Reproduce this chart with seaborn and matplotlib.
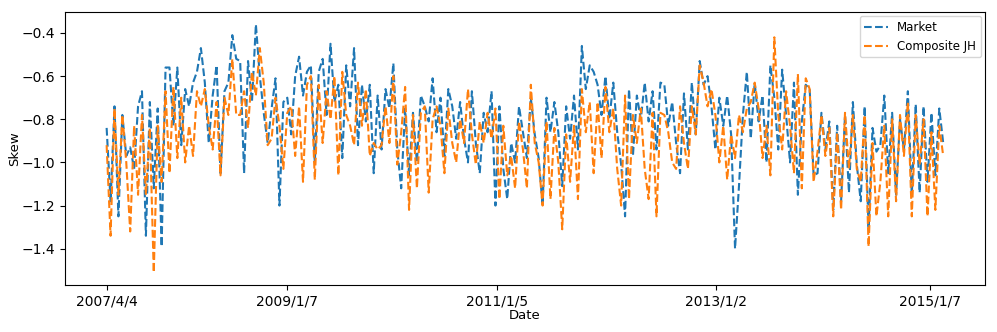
import numpy as np
import pandas as pd
import matplotlib
matplotlib.use("Agg")
import matplotlib.pyplot as plt
import seaborn as sns

# skew values (roughly every other week)
market = [
    -0.84, -1.18, -0.74, -1.25, -0.78, -0.97, -0.93, -1.03, -0.74, -0.67, -1.34, -0.72, -1.12, -0.75, -1.39, -0.56,
    -0.56, -0.83, -0.56, -0.92, -0.66, -0.74, -0.63, -0.58, -0.47, -0.63, -0.91, -0.69, -0.55, -1.05, -0.67, -0.63, -0.41, -0.52,
    -0.53, -1.05, -0.53, -0.72, -0.36, -0.60, -0.77, -0.91, -0.75, -0.61, -1.20, -0.72, -0.70, -0.87, -0.60, -0.51, -0.69, -0.58,
    -0.55, -1.00, -0.58, -0.52, -0.78, -0.45, -0.72, -0.64, -0.98, -0.55, -0.74, -0.47, -0.92, -0.64, -0.81, -0.64, -1.05, -0.69,
    -0.94, -0.66, -0.75, -0.54, -0.94, -1.12, -0.75, -1.06, -0.77, -1.00, -0.69, -0.74, -0.81, -0.61, -0.86, -0.70, -0.97, -0.66,
    -0.74, -0.89, -0.72, -0.89, -1.00, -0.67, -0.91, -1.05, -0.77, -0.86, -0.67, -1.20, -0.74, -1.03, -1.17, -0.91, -1.00, -0.74,
    -0.86, -0.98, -0.70, -0.87, -0.98, -1.20, -0.70, -0.86, -0.72, -0.86, -1.11, -0.74, -0.89, -0.69, -0.94, -0.46, -0.66, -0.55,
    -0.58, -0.64, -0.78, -0.60, -0.80, -0.63, -0.86, -1.01, -1.25, -0.66, -0.97, -0.69, -0.80, -0.63, -0.81, -0.67, -0.94, -0.63,
    -0.64, -0.83, -0.72, -0.91, -1.05, -0.68, -0.94, -0.63, -0.87, -0.53, -0.64, -0.60, -0.74, -0.94, -0.70, -0.83, -0.69, -0.87, -1.40,
    -1.11, -0.78, -0.58, -0.89, -0.63, -0.81, -0.69, -1.00, -0.55, -0.70, -0.94, -0.57, -0.78, -1.00, -0.63, -1.15, -0.81, -0.64,
    -0.66, -1.06, -1.05, -0.77, -0.94, -0.81, -1.22, -0.83, -1.18, -0.78, -1.14, -0.72, -1.01, -1.18, -0.74, -1.31, -0.84, -0.95,
    -0.92, -0.69, -1.05, -0.77, -1.15, -0.80, -0.94, -0.67, -1.15, -0.73, -1.14, -0.74, -1.09, -0.77, -1.06, -0.75, -0.91,
]

composite_jh = [
    -0.92, -1.34, -0.75, -1.15, -0.78, -1.00, -1.32, -0.83, -1.15, -0.78, -1.15, -0.84, -1.51, -0.83, -1.09, -0.67,
    -1.05, -0.65, -0.98, -0.70, -1.00, -0.83, -0.97, -0.67, -0.74, -0.66, -0.83, -0.94, -0.72, -1.06, -0.70, -0.78, -0.52, -0.78,
    -0.78, -0.67, -0.84, -0.58, -0.69, -0.47, -0.63, -0.92, -0.89, -0.70, -0.83, -1.03, -0.77, -0.74, -0.97, -0.74, -1.09, -0.64,
    -0.60, -1.08, -0.64, -0.91, -0.67, -0.80, -0.60, -1.06, -0.58, -0.78, -0.83, -0.92, -0.63, -0.83, -0.66, -0.97, -0.91, -0.94,
    -0.92, -0.74, -0.91, -0.60, -1.01, -0.86, -0.65, -1.22, -0.78, -1.12, -0.77, -0.74, -1.14, -0.80, -0.74, -0.83, -1.05, -0.75,
    -0.91, -1.00, -0.80, -0.91, -0.66, -0.87, -1.01, -0.81, -0.91, -0.77, -0.89, -0.75, -1.17, -0.83, -1.06, -0.97, -1.12, -0.81,
    -0.94, -1.12, -0.64, -0.91, -1.00, -1.20, -0.81, -1.17, -0.84, -1.00, -1.31, -0.87, -1.09, -0.83, -1.17, -0.66, -0.86, -0.72,
    -1.05, -0.72, -0.98, -0.65, -0.86, -0.75, -1.03, -1.20, -0.69, -1.17, -0.78, -0.91, -0.75, -1.03, -1.17, -0.77, -1.25, -0.77,
    -0.78, -0.86, -1.00, -1.03, -0.74, -0.91, -1.03, -0.74, -0.87, -0.55, -0.63, -0.74, -0.66, -0.78, -1.00, -0.83, -1.08, -0.87, -0.98,
    -0.78, -0.86, -0.75, -0.72, -0.63, -0.75, -0.98, -0.83, -1.06, -0.42, -0.78, -0.94, -0.67, -0.83, -1.05, -0.59, -1.12, -0.61,
    -0.66, -1.09, -0.95, -0.78, -0.97, -0.84, -1.25, -0.86, -1.22, -0.77, -1.03, -0.78, -1.03, -1.09, -0.78, -1.39, -0.91, -1.25,
    -1.09, -0.83, -1.25, -0.80, -1.18, -0.78, -0.97, -0.72, -1.25, -0.78, -1.01, -0.80, -1.25, -0.86, -1.22, -0.83, -0.97,
]

tick_labels = ["2007/4/4", "2009/1/7", "2011/1/5", "2013/1/2", "2015/1/7"]
tick_pos = [0, 45.9, 99.4, 155.2, 209.6]

df = pd.DataFrame({"idx": np.arange(len(market)), "Market": market, "Composite JH": composite_jh})

fig, ax = plt.subplots(figsize=(9.97, 3.32), dpi=100)
sns.lineplot(data=df, x="idx", y="Market", ax=ax, linestyle="--", color="#1f77b4", label="Market")
sns.lineplot(data=df, x="idx", y="Composite JH", ax=ax, linestyle="--", color="#ff7f0e", label="Composite JH")

ax.set_xticks(tick_pos)
ax.set_xticklabels(tick_labels)
ax.set_xlabel("Date", fontsize=9.5, labelpad=0)
ax.set_ylabel("Skew", fontsize=9.5, labelpad=0)
ax.legend(loc="upper right", fontsize=8.5, borderaxespad=0.35)

plt.subplots_adjust(left=0.065, right=0.988, top=0.964, bottom=0.142)
plt.savefig("out.png")
